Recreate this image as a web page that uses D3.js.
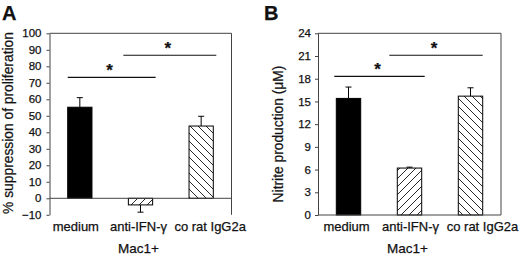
<!DOCTYPE html>
<html>
<head>
<meta charset="utf-8">
<script src="https://cdn.jsdelivr.net/npm/d3@7"></script>
<style>
  html, body { margin: 0; padding: 0; background: #fff; }
  svg { display: block; }
  text { font-family: "Liberation Sans", Arial, sans-serif; fill: #111; stroke: #111; stroke-width: 0.25px; }
</style>
</head>
<body>
<svg id="chart" width="520" height="256"></svg>
<script>
// ---------- data ----------
const categories = ["medium", "anti-IFN-γ", "co rat IgG2a"];
const groupLabel = "Mac1+";

const suppressionValues = [55.2, -4.0, 43.8];
const suppressionErrors = [5.8, 4.4, 5.9];
const suppressionTicks = [-10, 0, 10, 20, 30, 40, 50, 60, 70, 80, 90, 100];
const suppressionTitle = "% suppression of proliferation";

const nitriteValues = [15.4, 6.2, 15.7];
const nitriteErrors = [1.5, 0.12, 1.1];
const nitriteTicks = [0, 3, 6, 9, 12, 15, 18, 21, 24];
const nitriteTitle = "Nitrite production (μM)";

const barFills = ["solid", "fwd", "back"];

const sigFrom = [0, 1];
const sigTo = [1, 2];
const suppressionSigLevels = [73.3, 86.7];
const nitriteSigLevels = [18.3, 21.1];
const sigMark = "*";

// ---------- drawing ----------
const svg = d3.select("#chart");
svg.append("rect").attr("width", 520).attr("height", 256).attr("fill", "#fff");

const defs = svg.append("defs");
function hatch(id, dir, size) {
  const p = defs.append("pattern").attr("id", id)
    .attr("patternUnits", "userSpaceOnUse").attr("width", size).attr("height", size);
  p.append("rect").attr("width", size).attr("height", size).attr("fill", "#fff");
  const s = size;
  const d = dir === "fwd"
    ? `M0,${s} L${s},0 M${-s/2},${s/2} L${s/2},${-s/2} M${s/2},${s*1.5} L${s*1.5},${s/2}`
    : `M0,0 L${s},${s} M${-s/2},${s/2} L${s/2},${s*1.5} M${s/2},${-s/2} L${s*1.5},${s/2}`;
  p.append("path").attr("d", d).attr("stroke", "#111").attr("stroke-width", 0.9).attr("fill", "none");
}
hatch("hatchFwd", "fwd", 8);
hatch("hatchBack", "back", 8);
const fillFor = f => f === "solid" ? "#000" : (f === "fwd" ? "url(#hatchFwd)" : "url(#hatchBack)");

function panel(cfg) {
  const g = svg.append("g");
  const y = d3.scaleLinear().domain(cfg.domain).range([cfg.bottom, cfg.top]);
  const x = d3.scaleBand().domain(categories).range([cfg.left, cfg.right])
    .paddingInner(0.6).paddingOuter(0.3);
  const axisColor = "#444";

  // frame: top and right
  g.append("line").attr("x1", cfg.left).attr("x2", cfg.right)
    .attr("y1", y(cfg.domain[1])).attr("y2", y(cfg.domain[1]))
    .attr("stroke", axisColor).attr("stroke-width", 1);
  g.append("line").attr("x1", cfg.right).attr("x2", cfg.right)
    .attr("y1", y(cfg.domain[1])).attr("y2", y(cfg.domain[0]))
    .attr("stroke", axisColor).attr("stroke-width", 1);

  // y axis
  const ax = g.append("g").attr("transform", `translate(${cfg.left},0)`)
    .call(d3.axisLeft(y).tickValues(cfg.ticks).tickSize(3).tickSizeOuter(0).tickPadding(cfg.pad));
  ax.selectAll("path, line").attr("stroke", axisColor);
  ax.selectAll("text").attr("font-size", 11.5).attr("fill", "#111")
    .style("font-family", '"Liberation Sans", Arial, sans-serif');

  // bars
  const bw = x.bandwidth();
  categories.forEach((c, i) => {
    const v = cfg.values[i];
    const y0 = y(0), y1 = y(v);
    g.append("rect")
      .attr("x", x(c)).attr("width", bw)
      .attr("y", Math.min(y0, y1)).attr("height", Math.abs(y1 - y0))
      .attr("fill", fillFor(barFills[i]))
      .attr("stroke", "#000").attr("stroke-width", 1);
    // error bar
    const cx = x(c) + bw / 2;
    const ye = y(v + Math.sign(v) * cfg.errors[i]);
    g.append("line").attr("x1", cx).attr("x2", cx).attr("y1", y1).attr("y2", ye)
      .attr("stroke", "#000").attr("stroke-width", 1);
    g.append("line").attr("x1", cx - 3).attr("x2", cx + 3).attr("y1", ye).attr("y2", ye)
      .attr("stroke", "#000").attr("stroke-width", 1);
  });

  // x axis line at zero
  g.append("line").attr("x1", cfg.left).attr("x2", cfg.right)
    .attr("y1", y(0)).attr("y2", y(0))
    .attr("stroke", axisColor).attr("stroke-width", 1);

  // significance lines
  sigFrom.forEach((f, k) => {
    const x1 = x(categories[f]) - cfg.sigPadL[k];
    const x2 = x(categories[sigTo[k]]) + bw + cfg.sigPadR[k];
    const yy = y(cfg.sig[k]);
    g.append("line").attr("x1", x1).attr("x2", x2).attr("y1", yy).attr("y2", yy)
      .attr("stroke", "#111").attr("stroke-width", 1.2);
    g.append("text").attr("x", (x1 + x2) / 2 - 2).attr("y", yy - 1)
      .attr("text-anchor", "middle").attr("font-size", 17).attr("font-weight", "bold")
      .text(sigMark);
  });

  // category labels
  categories.forEach((c, i) => {
    g.append("text").attr("x", x(c) + bw / 2 + cfg.catShift[i]).attr("y", cfg.catY)
      .attr("text-anchor", "middle").attr("font-size", 13).text(c);
  });
  g.append("text").attr("x", (cfg.left + cfg.right) / 2 + cfg.groupShift).attr("y", cfg.groupY)
    .attr("text-anchor", "middle").attr("font-size", 13.5).text(groupLabel);

  // y title
  g.append("text")
    .attr("transform", `translate(${cfg.titleX},${cfg.titleY}) rotate(-90)`)
    .attr("text-anchor", "middle").attr("font-size", 13.8).text(cfg.title);

  // panel letter
  g.append("text").attr("x", cfg.letterX).attr("y", 20)
    .attr("font-size", 20).attr("font-weight", "bold").text(cfg.letter);
}

panel({
  letter: "A", letterX: 2,
  domain: [-10, 100], ticks: suppressionTicks,
  values: suppressionValues, errors: suppressionErrors,
  left: 49.5, right: 231.5, top: 33.3, bottom: 214.8, pad: 5,
  sig: suppressionSigLevels, sigPadL: [0, 5], sigPadR: [3, 3],
  catY: 231, catShift: [-4, -2, 9], groupY: 253, groupShift: -2,
  title: suppressionTitle, titleX: 12.5, titleY: 123
});

panel({
  letter: "B", letterX: 264,
  domain: [0, 24], ticks: nitriteTicks,
  values: nitriteValues, errors: nitriteErrors,
  left: 318, right: 501, top: 33.3, bottom: 215, pad: 4,
  sig: nitriteSigLevels, sigPadL: [2, 8], sigPadR: [3, 0],
  catY: 231, catShift: [-2, 1, 12], groupY: 253, groupShift: -2,
  title: nitriteTitle, titleX: 283, titleY: 134
});
</script>
</body>
</html>
